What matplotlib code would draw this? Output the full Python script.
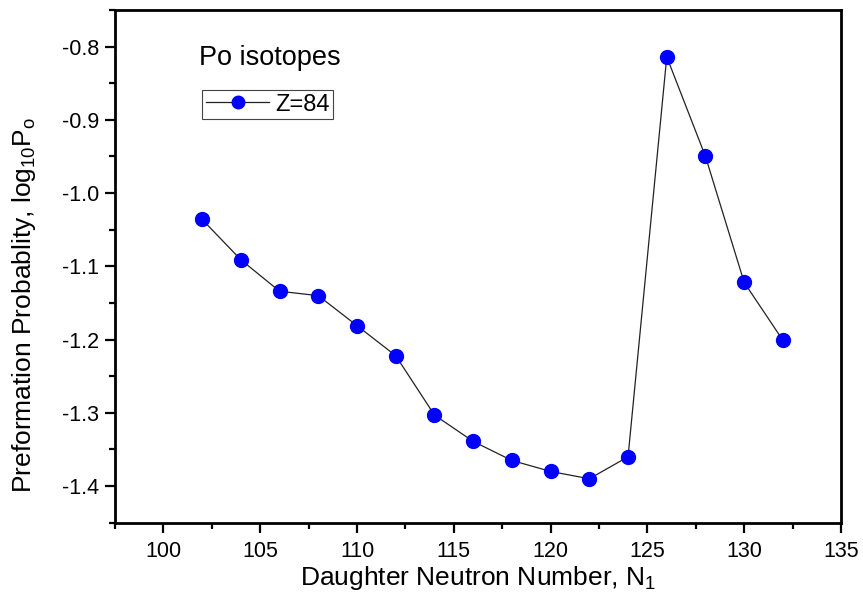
import matplotlib
matplotlib.use("Agg")
import matplotlib.pyplot as plt
from matplotlib.ticker import MultipleLocator, FormatStrFormatter

plt.rcParams.update({
    "font.family": "Liberation Sans",
    "mathtext.fontset": "custom",
    "mathtext.rm": "Liberation Sans",
    "mathtext.it": "Liberation Sans",
    "axes.unicode_minus": False,
})

# daughter neutron number vs log10 of preformation probability, Po (Z=84)
neutrons = [102, 104, 106, 108, 110, 112, 114, 116, 118, 120, 122, 124, 126, 128, 130, 132]
log_p0 = [-1.036, -1.091, -1.134, -1.140, -1.181, -1.222, -1.303, -1.339,
          -1.365, -1.380, -1.390, -1.360, -0.814, -0.950, -1.122, -1.201]

fig = plt.figure(figsize=(8.63, 6.05), dpi=100)
ax = fig.add_axes([0.1333, 0.136, 0.8412, 0.8475])

ax.plot(neutrons, log_p0, color="#222222", lw=0.9, marker="o", ms=10,
        mfc="#0000ff", mec="#0000ff", label="Z=84")

ax.set_xlim(97.5, 135)
ax.set_ylim(-1.45, -0.75)
ax.xaxis.set_major_locator(MultipleLocator(5))
ax.xaxis.set_minor_locator(MultipleLocator(2.5))
ax.yaxis.set_major_locator(MultipleLocator(0.1))
ax.yaxis.set_minor_locator(MultipleLocator(0.05))
ax.yaxis.set_major_formatter(FormatStrFormatter("%.1f"))

for s in ax.spines.values():
    s.set_linewidth(2.0)
ax.tick_params(which="major", direction="out", length=7.5, width=1.6,
               labelsize=15.5, top=False, right=False)
ax.tick_params(axis="x", which="major", pad=6)
ax.tick_params(axis="y", which="major", pad=4)
ax.tick_params(which="minor", direction="out", length=4.5, width=1.6,
               top=False, right=False)

ax.set_xlabel(r"Daughter Neutron Number, N$_{1}$", fontsize=19)
ax.set_ylabel(r"Preformation Probablity, log$_{10}$P$_{\rm o}$", fontsize=19)
ax.xaxis.set_label_coords(0.5, -0.08)
ax.yaxis.set_label_coords(-0.106, 0.425)

ax.text(0.1157, 0.906, "Po isotopes", transform=ax.transAxes, fontsize=19.5,
        ha="left", va="center")
leg = ax.legend(loc="upper left", bbox_to_anchor=(0.12, 0.844), fontsize=17,
                handlelength=2.7, handletextpad=0.25, borderpad=0.15,
                borderaxespad=0, fancybox=False, framealpha=1, markerscale=0.9)
leg.get_frame().set_edgecolor("#444444")
leg.get_frame().set_linewidth(0.8)

fig.savefig("out.png", dpi=100)
